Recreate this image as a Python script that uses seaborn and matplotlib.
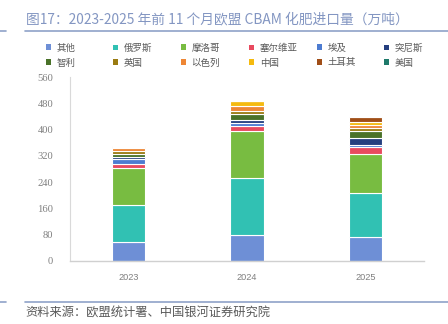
import matplotlib
matplotlib.use('Agg')
import matplotlib.pyplot as plt
import seaborn as sns
import pandas as pd
from matplotlib.patches import Patch

years = [2023, 2024, 2025]
countries = ['其他', '俄罗斯', '摩洛哥', '塞尔维亚', '埃及', '突尼斯',
             '智利', '英国', '以色列', '中国', '土耳其', '美国']
qita = [58, 79, 73]
eluosi = [113, 173, 134]
moluoge = [111, 143, 120]
saierweiya = [13, 16, 19]
aiji = [14, 9, 7]
tunisi = [8, 8, 22]
zhili = [8, 18, 21]
yingguo = [11, 12, 8]
yiselie = [9, 14, 10]
zhongguo = [3, 14, 9]
tuerqi = [1, 0.5, 14]
meiguo = [1, 0.5, 1]
colors = ['#6E8FD6', '#31C1B3', '#78BC41', '#E84A5F', '#4D7CD1', '#253F7F',
          '#4A7229', '#9A7B12', '#EE8635', '#F5BA0F', '#A04E17', '#1E7A6A']
yticks = [0, 80, 160, 240, 320, 400, 480, 560]

series = [qita, eluosi, moluoge, saierweiya, aiji, tunisi,
          zhili, yingguo, yiselie, zhongguo, tuerqi, meiguo]
rows = []
for name, vals in zip(countries, series):
    for y, v in zip(years, vals):
        rows.append({'year': y, 'country': name, 'value': v})
df = pd.DataFrame(rows)
palette = dict(zip(countries, colors))

sns.set_style('white')
plt.rcParams['font.family'] = ['Noto Sans CJK SC', 'DejaVu Sans']

fig = plt.figure(figsize=(4.48, 3.24), dpi=100)
ax = fig.add_axes([70/448, 1-261/324, (424-70)/448, (261-77)/324])

sns.histplot(data=df, x='year', weights='value', hue='country',
             hue_order=countries[::-1], palette=palette, multiple='stack',
             discrete=True, shrink=0.28, edgecolor='white', linewidth=0.8,
             alpha=1, legend=False, ax=ax)

ax.set_xlim(2022.51, 2025.49)
ax.set_ylim(0, 560)
ax.set_yticks(yticks)
ax.set_yticklabels([str(t) for t in yticks], family='Liberation Serif',
                   fontsize=7.6, color='#7F7F7F')
ax.set_xticks(years)
ax.set_xticklabels([str(y) for y in years], family='Liberation Sans',
                   fontsize=6.6, color='#7F7F7F')
ax.tick_params(axis='both', length=0)
ax.tick_params(axis='y', pad=12)
ax.tick_params(axis='x', pad=9)
ax.set_xlabel('')
ax.set_ylabel('')
for s in ['top', 'right']:
    ax.spines[s].set_visible(False)
ax.spines['left'].set_color('#D9D9D9')
ax.spines['bottom'].set_color('#D0D0D0')
ax.spines['left'].set_linewidth(0.8)
ax.spines['bottom'].set_linewidth(1.0)

# legend: 6 columns, 2 rows
col_x = [45.5, 113, 180.5, 249, 316.5, 384]
for c in range(6):
    idx = [c, c + 6]
    handles = [Patch(facecolor=colors[i], edgecolor='none', label=countries[i]) for i in idx]
    lg = fig.legend(handles=handles, loc='upper left',
                    bbox_to_anchor=(col_x[c]/448, 1-43.5/324), frameon=False,
                    fontsize=6.8, handlelength=0.55, handleheight=0.55,
                    handletextpad=0.6, labelspacing=0.62, borderpad=0,
                    borderaxespad=0)
    for t in lg.get_texts():
        t.set_color('#595959')

# title and rules
fig.text(26/448, 1-19.5/324, '图17：2023-2025 年前 11 个月欧盟 CBAM 化肥进口量（万吨）',
         fontsize=9.9, color='#8396C2', va='center', ha='left')
fig.add_artist(plt.Line2D([25/448, 1], [1-30.7/324, 1-30.7/324], color='#8FA2C8', lw=1.2))
fig.add_artist(plt.Line2D([0, 6/448], [1-30.7/324, 1-30.7/324], color='#8FA2C8', lw=1.2))
fig.add_artist(plt.Line2D([25/448, 1], [1-301.7/324, 1-301.7/324], color='#8FA2C8', lw=1.2))
fig.add_artist(plt.Line2D([0, 6/448], [1-301.7/324, 1-301.7/324], color='#8FA2C8', lw=1.2))
fig.text(25/448, 1-313.5/324, '资料来源：欧盟统计署、中国银河证券研究院',
         fontsize=8.8, color='#595959', va='center', ha='left', style='italic')

fig.savefig('out.png', dpi=100)
